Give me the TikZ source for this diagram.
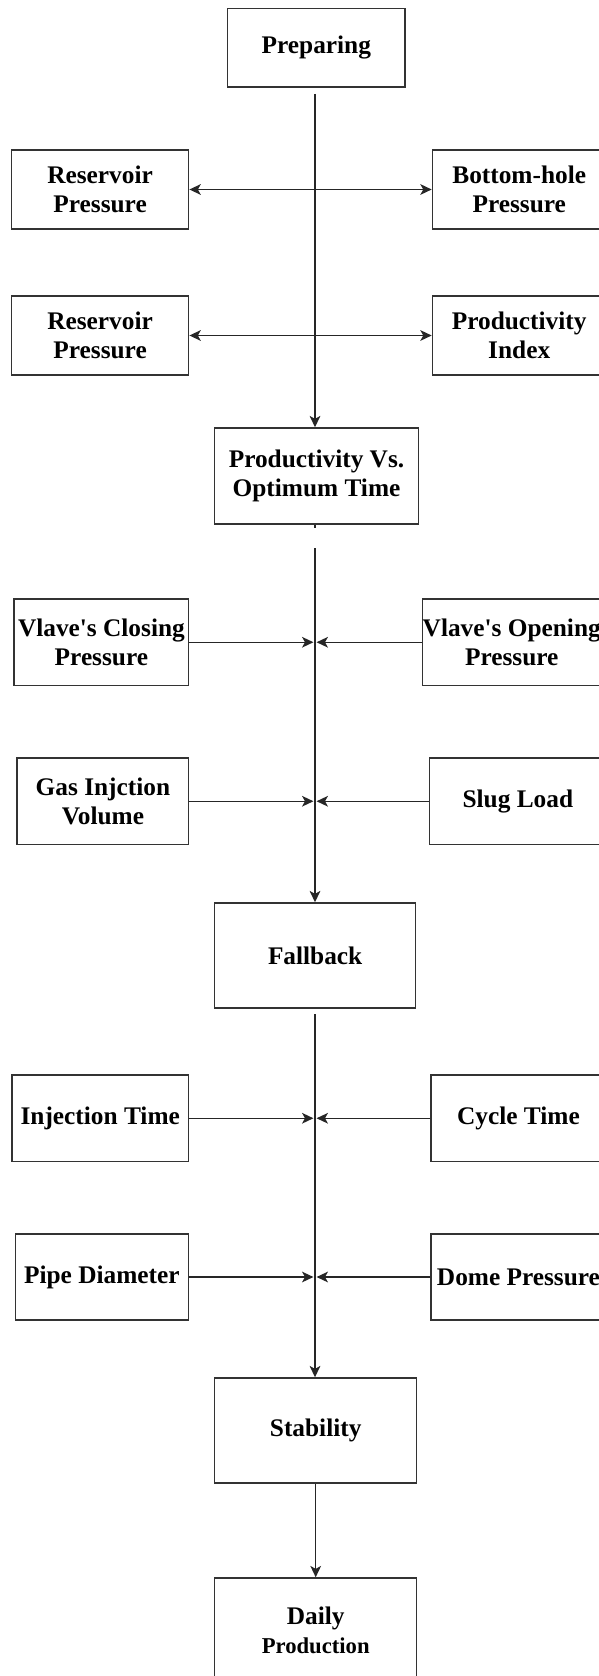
\documentclass[tikz,border=0pt]{standalone}
\usepackage{fontspec}
\setmainfont{Liberation Serif}
\usetikzlibrary{arrows.meta}
\newcommand\mkbox[6]{\node[box, minimum width={(#4-#2)*0.75pt}, minimum height={(#5-#3)*0.75pt}] (#1) at ({(#2+#4)/2},{(#3+#5)/2}) {#6};}
\begin{document}
\begin{tikzpicture}[x=0.75pt,y=-0.75pt,
  box/.style={draw=black!80, line width=1.1pt, inner sep=0pt, align=center, font=\fontsize{19}{21.3}\selectfont\bfseries},
  conn/.style={line width=1.1pt, draw=black!85},
  tip/.style={-{Stealth[length=8.5pt,width=8pt,inset=2.2pt]}},
  btip/.style={{Stealth[length=8.5pt,width=8pt,inset=2.2pt]}-{Stealth[length=8.5pt,width=8pt,inset=2.2pt]}}
]
\path[use as bounding box, clip] (0,0) rectangle (599,1676);
\fill[white] (0,0) rectangle (599,1676);

\mkbox{prep}{227.7}{8.6}{404.9}{87}{Preparing}
\mkbox{rlA}{11.5}{150}{188.7}{229}{Reservoir\\Pressure}
\mkbox{rrA}{432.4}{150}{606}{229}{Bottom-hole\\Pressure}
\mkbox{rlB}{11.5}{296}{188.7}{375}{Reservoir\\Pressure}
\mkbox{rrB}{432.4}{296}{606}{375}{Productivity\\Index}
\mkbox{pv}{214.7}{428}{418.3}{524}{Productivity Vs.\\Optimum Time}
\mkbox{clo}{14.1}{599}{188.7}{685.5}{Vlave\textquotesingle s Closing\\Pressure}
\mkbox{ope}{422.5}{599}{601}{685.5}{Vlave\textquotesingle s Opening\\Pressure}
\mkbox{gas}{17.2}{758}{188.7}{844.5}{Gas Injction\\Volume}
\mkbox{slug}{429.7}{758}{606}{844.5}{\raisebox{-2.5pt}{Slug Load}}
\mkbox{fb}{214.7}{903}{415.6}{1008}{Fallback}
\mkbox{inj}{12.2}{1075}{188.3}{1161.5}{\raisebox{-2pt}{Injection Time}}
\mkbox{cyc}{430.9}{1075}{606}{1161.5}{\raisebox{-2pt}{Cycle Time}}
\mkbox{pipe}{15.3}{1234}{188.3}{1320}{\raisebox{-1.5pt}{Pipe Diameter}}
\mkbox{dome}{430.9}{1234}{606}{1320}{Dome Pressure}
\mkbox{stab}{214.7}{1378}{416.7}{1483}{Stability}
\mkbox{daily}{214.7}{1578}{416.7}{1683}{Daily\\{\fontsize{17}{21}\selectfont Production}}

\coordinate (a1) at (315,94);
\coordinate (a2) at (315,548);
\coordinate (a3) at (315,1014);

\draw[conn,tip] (a1) -- (a1 |- pv.north);
\draw[conn,btip] (rlA.east) -- (rrA.west);
\draw[conn,btip] (rlB.east) -- (rrB.west);
\draw[conn] (a1 |- pv.south) -- ++(0,3);

\draw[conn,tip] (a2) -- (a2 |- fb.north);
\draw[conn,tip] (clo.east) -- ([xshift=-1.2pt]clo.east -| a2);
\draw[conn,tip] (ope.west) -- ([xshift=1.2pt]ope.west -| a2);
\draw[conn,tip] (gas.east) -- ([xshift=-1.2pt]gas.east -| a2);
\draw[conn,tip] (slug.west) -- ([xshift=1.2pt]slug.west -| a2);

\draw[conn,tip] (a3) -- (a3 |- stab.north);
\draw[conn,tip] (inj.east) -- ([xshift=-1.2pt]inj.east -| a3);
\draw[conn,tip] (cyc.west) -- ([xshift=1.2pt]cyc.west -| a3);
\draw[conn,tip] (pipe.east) -- ([xshift=-1.2pt]pipe.east -| a3);
\draw[conn,tip] (dome.west) -- ([xshift=1.2pt]dome.west -| a3);

\draw[conn,tip] (stab.south) -- (daily.north);
\end{tikzpicture}
\end{document}
